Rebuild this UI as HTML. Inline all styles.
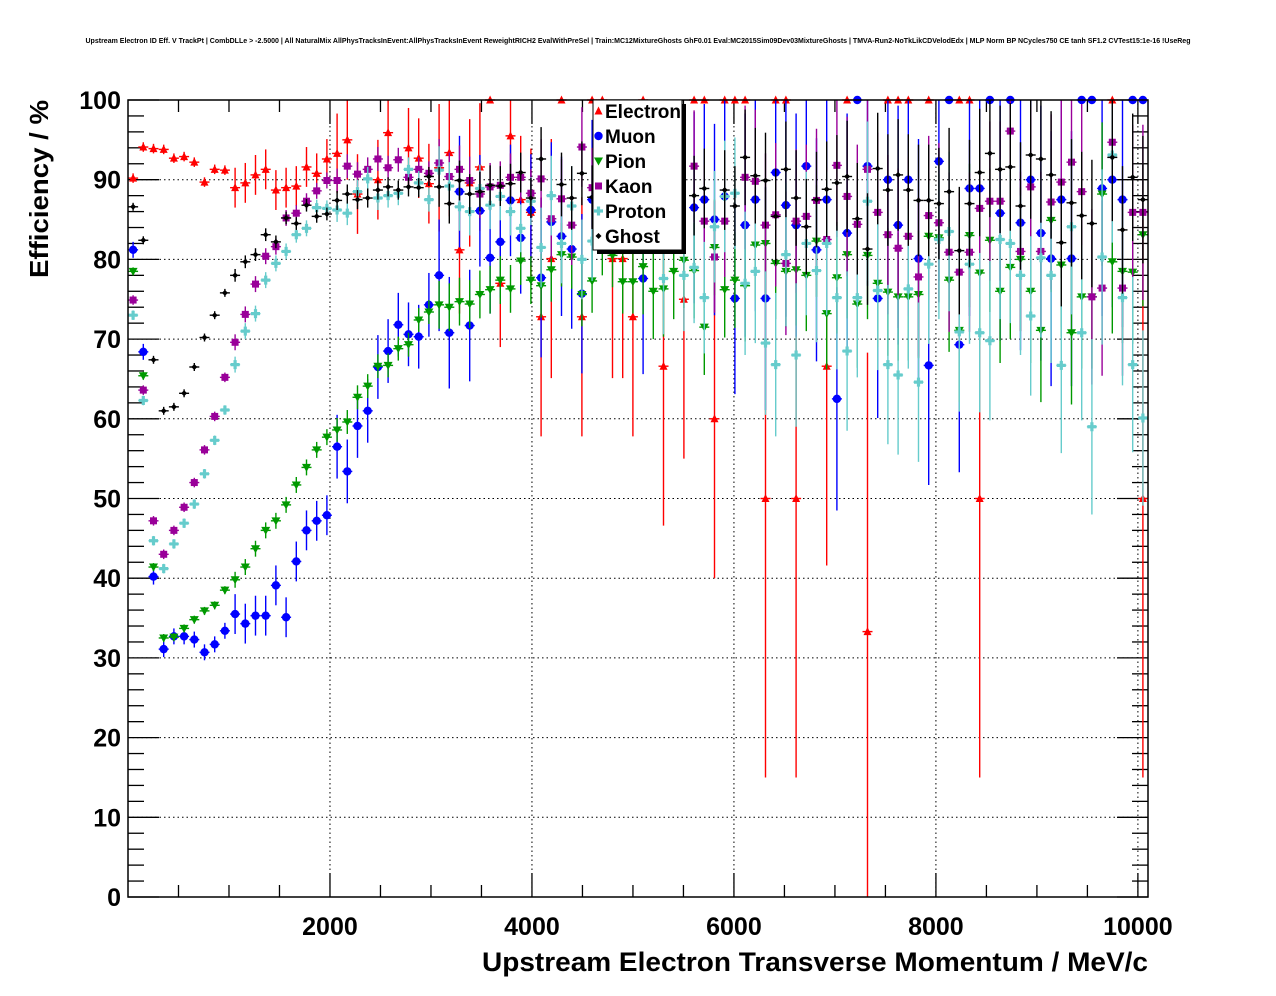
<!DOCTYPE html>
<html><head><meta charset="utf-8"><style>
body{margin:0;background:#fff;}
svg{display:block;font-family:"Liberation Sans",Arial,sans-serif;}
</style></head><body>
<svg id="c" width="1276" height="996" viewBox="0 0 1276 996" xmlns="http://www.w3.org/2000/svg">
<rect x="0" y="0" width="1276" height="996" fill="#fff"/>
<text x="638" y="43" font-size="7" font-weight="bold" text-anchor="middle" textLength="1105" lengthAdjust="spacingAndGlyphs">Upstream Electron ID Eff. V TrackPt | CombDLLe &gt; -2.5000 | All NaturalMix AllPhysTracksInEvent:AllPhysTracksInEvent ReweightRICH2 EvalWithPreSel | Train:MC12MixtureGhosts GhF0.01 Eval:MC2015Sim09Dev03MixtureGhosts | TMVA-Run2-NoTkLikCDVelodEdx | MLP Norm BP NCycles750 CE tanh SF1.2 CVTest15:1e-16 !UseReg</text>
<g id="grid"></g>
<g id="ticks"></g>
<g id="marks"></g>
<rect x="128" y="100" width="1020" height="797" fill="none" stroke="#000" stroke-width="1.5"/>
<text transform="translate(48,278) rotate(-90)" font-size="26" font-weight="bold" textLength="178" lengthAdjust="spacingAndGlyphs">Efficiency / %</text>
<text x="1148" y="971" font-size="27" font-weight="bold" text-anchor="end" textLength="666" lengthAdjust="spacingAndGlyphs">Upstream Electron Transverse Momentum / MeV/c</text>
<g id="legend">
<rect x="597" y="104" width="89" height="150" fill="#000"/>
<rect x="593" y="100" width="89" height="150" fill="#fff" stroke="#000" stroke-width="1"/>
</g>
</svg>
<script>
const categories=[];for(let i=0;i<100;i++)categories.push(50.5+101*i);
const xTicks=[2000,4000,6000,8000,10000];
const yTicks=[0,10,20,30,40,50,60,70,80,90,100];
const electron=[90.2,94.1,93.9,93.8,92.7,92.9,92.2,89.7,91.3,91.2,89.0,89.6,90.6,91.3,88.7,89.0,89.2,91.6,90.8,92.6,93.3,95.0,88.2,null,90.0,95.9,null,94.0,92.7,89.5,91.5,93.4,81.2,89.6,91.6,100,77,95.5,87.5,85.9,
72.8,80.1,100,null,72.8,100,100,80.1,80.1,72.8,100,null,66.6,null,75,100,100,60,100,100,100,null,50,100,100,50,null,null,66.6,null,100,null,33.3,null,100,100,100,null,100,null,null,100,100,50,null,null,null,null,null,null,null,null,null,null,null,null,100,null,null,50];
const muon=[81.2,68.4,40.2,31.1,32.7,32.7,32.3,30.7,31.7,33.4,35.5,34.3,35.3,35.3,39.1,35.1,42.1,46,47.2,47.9,56.5,53.4,59.1,61,66.5,68.5,71.8,70.6,70.3,74.3,78,70.8,88.5,71.7,86.1,80.2,82.2,87.4,82.7,86.2,
77.7,84.7,82.9,81.3,75.7,87.5,null,null,null,null,77.6,null,null,null,null,86.5,87.5,85,87.9,75.1,84.3,87.5,75.1,90.9,86.8,84.3,91.7,81.2,87.5,62.5,83.3,100,91.7,75.1,90,84.3,90,80.1,66.7,92.3,100,69.3,88.9,88.9,100,85.8,100,84.6,90,83.3,80.1,87.5,80.1,100,100,88.9,90,87.5,100,100];
const pion=[78.5,65.4,41.4,32.5,32.6,33.7,34.8,35.9,36.6,38.5,39.8,41.4,43.7,46,47.2,49.2,51.7,53.9,56.1,57.7,58.6,59.6,62.7,64.1,66.6,66.7,68.8,69.3,72.4,73.4,74.3,74,74.7,74.4,75.6,76.2,77.4,76.3,79.8,77.4,
76.7,78.7,80.6,80.3,75.6,77.3,82,80.5,77.2,77.2,79.1,76,76.3,78.5,79.9,78.6,71.5,81.5,76.2,77.4,76.7,81.8,82,79.5,78.5,78.7,78,82.3,73.2,77.7,80.6,74.4,80.5,77,75.9,75.3,75.3,75.6,82.9,82.7,77.4,71.1,83,78.3,82.4,76,79,80,76,71.1,84.9,79.3,70.8,75.3,75.3,88.2,79.7,78.5,78.4,83.1];
const kaon=[74.9,63.6,47.2,43,46,48.9,52,56.1,60.3,65.2,69.6,73.1,76.9,80.4,81.6,85.2,85.8,87.3,88.6,89.9,89.9,91.7,90.7,91.3,92.6,91.5,92.5,90.3,91.3,90.8,92.1,90.4,91.3,89.9,88.2,89.1,89.3,90.3,90.3,88.3,
90.1,85.1,87.6,84.3,94.1,89,null,null,null,null,null,null,null,null,null,91.7,84.8,80.3,84.8,null,90.3,89.8,84.3,85.6,79.5,84.8,85.4,87.4,82.5,91.8,87.9,84.4,91.3,85.9,83.1,81.4,82.9,77.8,85.5,84.6,80.9,78.4,80.9,86.4,87.3,87.3,96.1,81,89.1,81,87.2,89.7,92.2,88.5,75.3,76.4,94.7,76.4,85.9,85.9];
const proton=[73,62.3,44.7,41.2,44.3,46.9,49.3,53.1,57.3,61.1,66.8,71,73.2,77.4,79.5,81,83.1,83.9,86.5,86.4,86.2,85.8,88.5,90.1,87.7,88,88.3,91.3,89.6,87.5,91.2,89.2,86.6,86,88.9,86.8,87.9,86,83.9,87.3,
81.5,88,82,86.7,80,82.3,null,null,null,null,null,null,77.6,null,78,79,75.2,84.1,87.9,88.3,77,78.5,69.5,66.8,80.6,68,82,78.6,82,75.2,68.5,75.2,87.3,76.1,66.8,65.5,76.3,64.6,79.4,82.5,83.5,70.9,79.4,70.8,69.8,82.5,82,78,72.9,80.2,78,66.7,84.1,70.8,59,80.3,93.1,75.2,66.8,60.1];
const ghost=[86.6,82.4,67.4,61,61.5,63.2,66.5,70.2,73,75.8,78,79.7,80.6,83.1,82.2,85.2,84.5,86.8,85.4,85.7,87.4,88.2,87.5,87.7,88.7,89.1,88.7,89.1,89,90.4,89.1,87,89.9,88.2,88.5,89.3,89.2,89.5,90.9,87.7,
92.6,null,89.4,87.7,90.8,87.8,null,null,null,null,null,null,null,null,null,88,88.9,null,88.7,86.7,92.8,90.5,89.9,85.4,91.3,87.7,84.1,87.5,88.8,89.6,90.4,85.1,81.3,91.4,88.7,90.6,88.7,87.4,87.4,87,88.5,81.1,87,90.9,93.3,91.3,91.6,86.7,93.1,92.6,90.6,82.1,87.1,85.5,84.5,null,92.8,83.7,90.3,87.5];
const electronErr=[0.6,2.5,5,8,15,20,25,25,30,30];
const muonErr=[1,2.5,4,7,10,12,14,15,16,16];
const pionErr=[0.5,1,1.5,3,4,6,7,8,9,9];
const kaonErr=[0.6,1,1.5,3,5,7,9,10,10,11];
const protonErr=[0.6,1,1.5,3,5,7,9,10,10,11];
const ghostErr=[0.5,0.8,1.2,2.5,4,5,6,7,8,8];

const NS="http://www.w3.org/2000/svg";
const X0=128,X1=1148,Y0=897,Y1=100,XMAX=10100;
function xs(p){return X0+p*(X1-X0)/XMAX;}
function ys(v){return Y0-v*(Y0-Y1)/100;}
function mk(tag,attrs,parent){const e=document.createElementNS(NS,tag);for(const k in attrs)e.setAttribute(k,attrs[k]);parent.appendChild(e);return e;}
const grid=document.getElementById('grid'),ticks=document.getElementById('ticks'),marks=document.getElementById('marks');
yTicks.forEach(v=>{if(v===0||v===100)return;const l=mk('line',{x1:X0,x2:X1,y1:ys(v),y2:ys(v),stroke:'#000','stroke-width':1,'stroke-dasharray':'1.5,3'},grid);

});
xTicks.forEach(v=>{const l=mk('line',{x1:xs(v),x2:xs(v),y1:Y0,y2:Y1,stroke:'#000','stroke-width':1,'stroke-dasharray':'1.5,3'},grid);

});
for(let v=0;v<=100;v+=2){const major=v%10===0;const L=major?31:16;
mk('line',{x1:X0,x2:X0+L,y1:ys(v),y2:ys(v),stroke:'#000','stroke-width':1.3},ticks);
mk('line',{x1:X1,x2:X1-L,y1:ys(v),y2:ys(v),stroke:'#000','stroke-width':1.3},ticks);}
yTicks.forEach(v=>{const t=mk('text',{x:121,y:ys(v)+9,'font-size':25,'font-weight':'bold','text-anchor':'end'},ticks);t.textContent=v;

});
for(let p=500;p<=10000;p+=500){const major=p%2000===0;const L=major?24:12;
mk('line',{x1:xs(p),x2:xs(p),y1:Y0,y2:Y0-L,stroke:'#000','stroke-width':1.3},ticks);
mk('line',{x1:xs(p),x2:xs(p),y1:Y1,y2:Y1+L,stroke:'#000','stroke-width':1.3},ticks);}
xTicks.forEach(v=>{const t=mk('text',{x:xs(v),y:935,'font-size':25,'font-weight':'bold','text-anchor':'middle'},ticks);t.textContent=v;

});

function marker(kind,cx,cy,col,parent){
 let e;
 if(kind==='tu')e=mk('polygon',{points:`${cx-4},${cy+3.5} ${cx+4},${cy+3.5} ${cx},${cy-4.5}`,fill:col},parent);
 else if(kind==='td')e=mk('polygon',{points:`${cx-4.5},${cy-3.5} ${cx+4.5},${cy-3.5} ${cx},${cy+4.5}`,fill:col},parent);
 else if(kind==='c')e=mk('circle',{cx:cx,cy:cy,r:4.2,fill:col},parent);
 else if(kind==='s')e=mk('rect',{x:cx-3.5,y:cy-3.5,width:7,height:7,fill:col},parent);
 else if(kind==='x')e=mk('path',{d:`M${cx-1.6} ${cy-4.5}h3.2v2.9h2.9v3.2h-2.9v2.9h-3.2v-2.9h-2.9v-3.2h2.9z`,fill:col},parent);
 else e=mk('polygon',{points:`${cx},${cy-3} ${cx+3},${cy} ${cx},${cy+3} ${cx-3},${cy}`,fill:col},parent);
 return e;
}
const series=[
 {name:'electron',vals:electron,err:electronErr,col:'#ff0000',kind:'tu',label:'Electron'},
 {name:'muon',vals:muon,err:muonErr,col:'#0000ff',kind:'c',label:'Muon'},
 {name:'pion',vals:pion,err:pionErr,col:'#009900',kind:'td',label:'Pion'},
 {name:'kaon',vals:kaon,err:kaonErr,col:'#990099',kind:'s',label:'Kaon'},
 {name:'proton',vals:proton,err:protonErr,col:'#66cccc',kind:'x',label:'Proton'},
 {name:'ghost',vals:ghost,err:ghostErr,col:'#000000',kind:'d',label:'Ghost'}];
series.forEach(s=>{
 const g=mk('g',{},marks);
 
 
 s.vals.forEach((v,i)=>{
  if(v===null||v===undefined)return;
  const cx=xs(categories[i]),cy=ys(v);
  let e=s.err[Math.floor(i/10)];
  if(v>=100)e=0;
  if(v<=55&&i>50)e=35;
  const lo=Math.max(0,v-e),hi=Math.min(100,v+e);
  if(e>0)mk('line',{x1:cx,x2:cx,y1:ys(lo),y2:ys(hi),stroke:s.col,'stroke-width':1.4},g);
  mk('line',{x1:cx-5,x2:cx+5,y1:cy,y2:cy,stroke:s.col,'stroke-width':1.4},g);
  const m=marker(s.kind,cx,cy,s.col,g);
  
  
 });
});
const lg=document.getElementById('legend');
series.forEach((s,k)=>{
 const cy=111+k*25;
 const g=mk('g',{},lg);
 
 
 marker(s.kind,598.5,cy,s.col,g);
 const t=mk('text',{x:605,y:cy+7,'font-size':19,'font-weight':'bold'},g);t.textContent=s.label;
});
</script>
</body></html>
